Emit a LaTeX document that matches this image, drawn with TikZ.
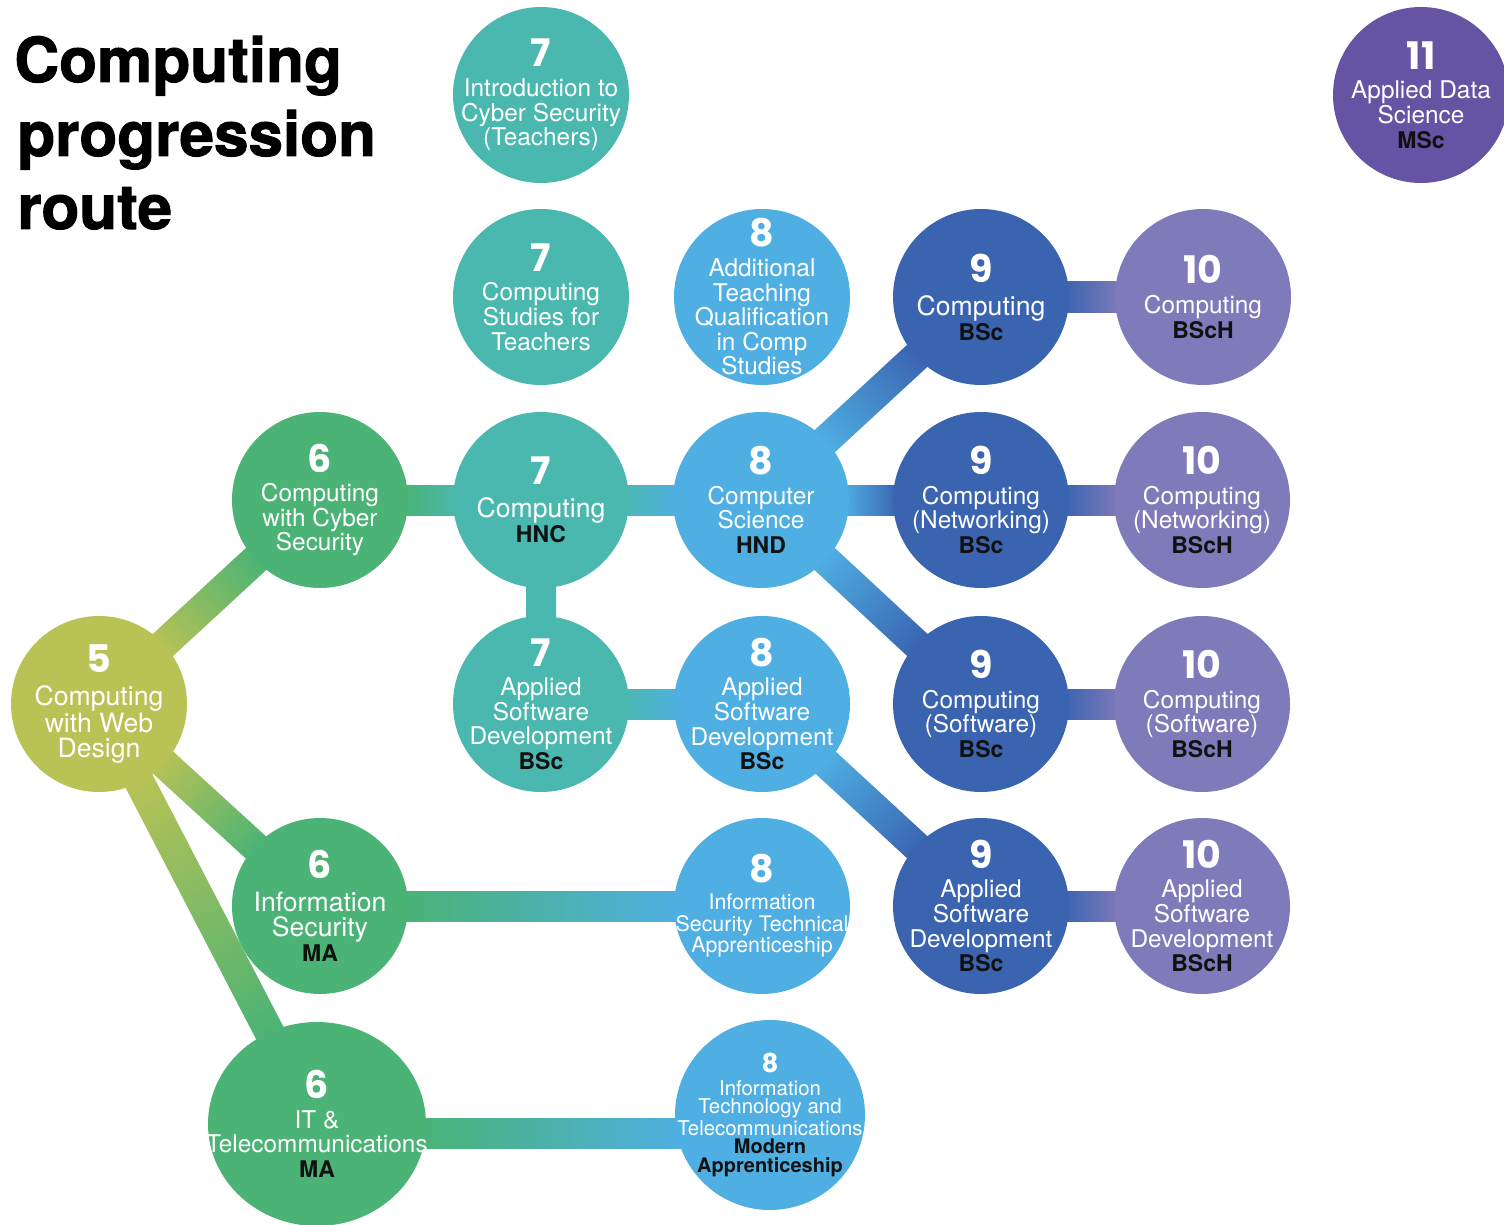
\documentclass[tikz,border=0pt]{standalone}
\usepackage{fontspec}
\setmainfont{TeX Gyre Heros}
\newfontfamily\titlefont{TeX Gyre Heros}[BoldFeatures={FakeBold=1.6}]
\newfontfamily\numfont{Poppins}
\usetikzlibrary{shapes.geometric}
\pgfdeclarelayer{background}
\pgfsetlayers{background,main}
\definecolor{lime5}{HTML}{B8C255}
\definecolor{green6}{HTML}{4AB375}
\definecolor{teal7}{HTML}{4BB8B0}
\definecolor{blue8}{HTML}{4FAFE2}
\definecolor{dark9}{HTML}{3A63B0}
\definecolor{lav10}{HTML}{7F7AB9}
\definecolor{purple11}{HTML}{6553A4}
\definecolor{labelink}{HTML}{111111}
\newcommand\lvl[1]{{\numfont\bfseries\fontsize{19}{19}\selectfont #1}\\[2.5pt]}
\newcommand\lvlb[1]{{\numfont\bfseries\fontsize{19}{19}\selectfont #1}\\[4pt]}
\newcommand\lvlsmall[1]{{\numfont\bfseries\fontsize{13}{13}\selectfont #1}\\[2pt]}
\newcommand\dg[1]{{\fontsize{11.5}{12.3}\selectfont\bfseries\color{labelink}#1}}
\newcommand\dgsmall[1]{{\fontsize{10}{9.4}\selectfont\bfseries\color{labelink}#1}}
% gradient connector between two named nodes (centre to centre, clipped at borders)
\newcommand\linkit[4]{%
  \pgfpointanchor{#1}{center}\pgfgetlastxy{\lax}{\lay}%
  \pgfpointanchor{#2}{center}\pgfgetlastxy{\lbx}{\lby}%
  \pgfpointshapeborder{#1}{\pgfpointanchor{#2}{center}}\pgfgetlastxy{\lsx}{\lsy}%
  \pgfpointshapeborder{#2}{\pgfpointanchor{#1}{center}}\pgfgetlastxy{\ltx}{\lty}%
  \pgfmathsetmacro\lra{veclen(\lsx-\lax,\lsy-\lay)}%
  \pgfmathsetmacro\lrb{veclen(\ltx-\lbx,\lty-\lby)}%
  \pgfmathsetmacro\lang{atan2(\lby-\lay,\lbx-\lax)}%
  \pgfmathsetmacro\llen{veclen(\lbx-\lax,\lby-\lay)}%
  \begin{scope}[transform canvas={shift={(\lax,\lay)},rotate=\lang}]
    \shade[left color=#3,right color=#4] (\lra pt-3pt,-7.5pt) rectangle (\llen pt-\lrb pt+3pt,7.5pt);
  \end{scope}}
% horizontal gradient connector between two named coordinates
\newcommand\linkat[4]{%
  \shade[left color=#3,right color=#4] ([yshift=-7.5pt]#1) rectangle ([yshift=7.5pt]#2);}
\tikzset{
  bub/.style={circle, fill=#1, inner sep=-30pt, minimum size=88pt, align=center, text=white,
    font=\fontsize{12.2}{12.3}\selectfont},
  bigtext/.style={font=\fontsize{13.3}{12.5}\selectfont},
  smalltext/.style={font=\fontsize{10.7}{10.8}\selectfont},
  tinytext/.style={font=\fontsize{10.2}{9.4}\selectfont},
  titletext/.style={anchor=base west, inner sep=0pt, font=\titlefont\bfseries\fontsize{31}{37}\selectfont},
}
\begin{document}
\begin{tikzpicture}[x=0.5pt,y=-0.5pt]
\useasboundingbox (0,0) rectangle (1504,1225);
% title
\node[titletext] (t1) at (14,82) {Computing};
\node[titletext] (t2) at (17,156) {progression};
\node[titletext] (t3) at (17,229) {route};
% nodes
\node[bub=purple11] (n11) at (1421,95) {\lvl{11}Applied Data\\Science\\\dg{MSc}};
\node[bub=teal7] (intro7) at (541,95) {\lvl{7}Introduction to\\Cyber Security\\(Teachers)};
\node[bub=teal7] (css7) at (541,297) {\lvl{7}Computing\\Studies for\\Teachers};
\node[bub=blue8] (atq8) at (762,297) {\lvl{8}Additional\\Teaching\\Qualification\\in Comp\\Studies};
\node[bub=dark9, bigtext] (c9) at (981,297) {\lvlb{9}Computing\\\dg{BSc}};
\node[bub=lav10] (c10) at (1203,297) {\lvl{10}Computing\\\dg{BScH}};
\node[bub=green6] (cyber6) at (320,500) {\lvl{6}Computing\\with Cyber\\Security};
\node[bub=teal7, bigtext] (hnc7) at (541,500) {\lvlb{7}Computing\\\dg{HNC}};
\node[bub=blue8] (hnd8) at (761,500) {\lvl{8}Computer\\Science\\\dg{HND}};
\node[bub=dark9] (net9) at (981,500) {\lvl{9}Computing\\(Networking)\\\dg{BSc}};
\node[bub=lav10] (net10) at (1202,500) {\lvl{10}Computing\\(Networking)\\\dg{BScH}};
\node[bub=lime5, bigtext] (web5) at (99,704) {\lvlb{5}Computing\\with Web\\Design};
\node[bub=teal7] (asd7) at (541,704) {\lvl{7}Applied\\Software\\Development\\\dg{BSc}};
\node[bub=blue8] (asd8) at (762,704) {\lvl{8}Applied\\Software\\Development\\\dg{BSc}};
\node[bub=dark9] (sw9) at (981,704) {\lvl{9}Computing\\(Software)\\\dg{BSc}};
\node[bub=lav10] (sw10) at (1202,704) {\lvl{10}Computing\\(Software)\\\dg{BScH}};
\node[bub=green6, bigtext] (is6) at (320,906) {\lvlb{6}Information\\Security\\\dg{MA}};
\node[bub=blue8, smalltext] (ista8) at (762,906) {\lvl{8}Information\\Security Technical\\Apprenticeship};
\node[bub=dark9] (asd9) at (981,906) {\lvl{9}Applied\\Software\\Development\\\dg{BSc}};
\node[bub=lav10] (asd10) at (1202,906) {\lvl{10}Applied\\Software\\Development\\\dg{BScH}};
\node[bub=green6, ellipse, minimum width=109pt, minimum height=102pt] (it6) at (317,1124) {\lvl{6}IT \&\\Telecommunications\\\dg{MA}};
\node[bub=blue8, tinytext, minimum size=95pt] (itmod8) at (770,1115) {\lvlsmall{8}Information\\Technology and\\Telecommunications\\\dgsmall{Modern}\\\dgsmall{Apprenticeship}};
\coordinate (itA) at (418,1133);
\coordinate (itB) at (682,1133);
% connectors
\begin{pgfonlayer}{background}
\linkit{web5}{cyber6}{lime5}{green6}
\linkit{web5}{is6}{lime5}{green6}
\linkit{web5}{it6}{lime5}{green6}
\linkit{cyber6}{hnc7}{green6}{teal7}
\linkit{hnc7}{hnd8}{teal7}{blue8}
\linkit{hnc7}{asd7}{teal7}{teal7}
\linkit{asd7}{asd8}{teal7}{blue8}
\linkit{hnd8}{c9}{blue8}{dark9}
\linkit{hnd8}{net9}{blue8}{dark9}
\linkit{hnd8}{sw9}{blue8}{dark9}
\linkit{asd8}{asd9}{blue8}{dark9}
\linkit{c9}{c10}{dark9}{lav10}
\linkit{net9}{net10}{dark9}{lav10}
\linkit{sw9}{sw10}{dark9}{lav10}
\linkit{asd9}{asd10}{dark9}{lav10}
\linkit{is6}{ista8}{green6}{blue8}
\linkat{itA}{itB}{green6}{blue8}
\end{pgfonlayer}
\end{tikzpicture}
\end{document}
